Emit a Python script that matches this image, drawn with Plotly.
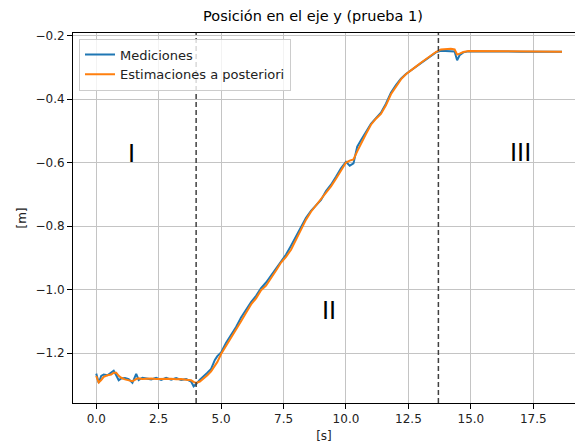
import plotly.graph_objects as go

# ---- data ----
t = [0.0, 0.1, 0.2, 0.3, 0.45, 0.6, 0.7, 0.8, 0.9, 1.0, 1.15, 1.3, 1.45, 1.6, 1.7, 1.85,
     2.0, 2.2, 2.4, 2.6, 2.8, 3.0, 3.2, 3.4, 3.6, 3.8, 3.9, 4.0, 4.15, 4.3, 4.45, 4.6,
     4.75, 4.85, 5.0, 5.2, 5.4, 5.6, 5.8, 6.0, 6.2, 6.4, 6.6, 6.8, 7.0, 7.2, 7.4, 7.6,
     7.8, 8.0, 8.2, 8.4, 8.6, 8.8, 9.0, 9.2, 9.4, 9.6, 9.8, 10.0, 10.15, 10.3, 10.45,
     10.6, 10.8, 11.0, 11.2, 11.4, 11.6, 11.8, 12.0, 12.2, 12.4, 12.6, 12.8, 13.0, 13.2,
     13.4, 13.6, 13.8, 14.0, 14.2, 14.35, 14.45, 14.55, 14.7, 14.9, 15.2, 16.0, 17.0,
     18.0, 18.65]

mediciones = [-1.265, -1.294, -1.272, -1.268, -1.270, -1.262, -1.256, -1.270, -1.286, -1.280,
              -1.279, -1.282, -1.294, -1.266, -1.285, -1.278, -1.280, -1.283, -1.278, -1.285,
              -1.278, -1.284, -1.279, -1.285, -1.282, -1.290, -1.305, -1.298, -1.284, -1.274,
              -1.262, -1.250, -1.222, -1.210, -1.198, -1.168, -1.145, -1.118, -1.088, -1.062,
              -1.040, -1.020, -0.996, -0.978, -0.955, -0.933, -0.910, -0.890, -0.862, -0.832,
              -0.800, -0.774, -0.752, -0.736, -0.718, -0.690, -0.670, -0.645, -0.618, -0.598,
              -0.610, -0.603, -0.550, -0.530, -0.505, -0.478, -0.460, -0.443, -0.415, -0.380,
              -0.356, -0.336, -0.321, -0.310, -0.297, -0.287, -0.275, -0.264, -0.253, -0.248,
              -0.248, -0.248, -0.250, -0.278, -0.262, -0.253, -0.250, -0.250, -0.251, -0.251,
              -0.251, -0.251]

estimaciones = [-1.272, -1.293, -1.285, -1.275, -1.270, -1.268, -1.262, -1.262, -1.272, -1.278,
                -1.283, -1.287, -1.289, -1.282, -1.280, -1.282, -1.281, -1.280, -1.282, -1.281,
                -1.282, -1.281, -1.283, -1.282, -1.284, -1.286, -1.291, -1.294, -1.290, -1.281,
                -1.270, -1.258, -1.240, -1.228, -1.203, -1.178, -1.152, -1.126, -1.100, -1.073,
                -1.047, -1.028, -1.002, -0.988, -0.962, -0.940, -0.915, -0.897, -0.875, -0.843,
                -0.810, -0.780, -0.755, -0.735, -0.712, -0.694, -0.675, -0.651, -0.625, -0.600,
                -0.594, -0.590, -0.565, -0.540, -0.510, -0.481, -0.462, -0.447, -0.420, -0.385,
                -0.360, -0.338, -0.322, -0.311, -0.298, -0.286, -0.274, -0.262, -0.252, -0.244,
                -0.242, -0.242, -0.244, -0.260, -0.257, -0.252, -0.249, -0.249, -0.250, -0.250,
                -0.251, -0.251]

x_ticks = [0.0, 2.5, 5.0, 7.5, 10.0, 12.5, 15.0, 17.5]
x_tick_labels = ["0.0", "2.5", "5.0", "7.5", "10.0", "12.5", "15.0", "17.5"]
y_ticks = [-1.2, -1.0, -0.8, -0.6, -0.4, -0.2]
y_tick_labels = ["\u22121.2", "\u22121.0", "\u22120.8", "\u22120.6", "\u22120.4", "\u22120.2"]

separadores = [4.0, 13.7]
etapas = ["I", "II", "III"]
etapas_x = [1.41, 9.32, 16.97]
etapas_y = [-0.572, -1.068, -0.570]

assert len(t) == len(mediciones) == len(estimaciones)

FONT = "DejaVu Sans"

fig = go.Figure()
fig.add_trace(go.Scatter(x=t, y=mediciones, mode="lines", name="Mediciones",
                         line=dict(color="#1f77b4", width=2)))
fig.add_trace(go.Scatter(x=t, y=estimaciones, mode="lines", name="Estimaciones a posteriori",
                         line=dict(color="#ff7f0e", width=2)))

for xv in separadores:
    fig.add_shape(type="line", xref="x", yref="paper", x0=xv, x1=xv, y0=0, y1=1,
                  line=dict(color="#404040", width=1.5, dash="5px,3px"), layer="above")

for lbl, xv, yv in zip(etapas, etapas_x, etapas_y):
    fig.add_annotation(x=xv, y=yv, xref="x", yref="y", text=lbl, showarrow=False,
                       font=dict(family=FONT, size=24, color="black"))

fig.update_layout(
    width=575, height=448,
    margin=dict(l=73, r=0, t=33, b=45),
    paper_bgcolor="white", plot_bgcolor="white",
    font=dict(family=FONT, size=12, color="#222222"),
    title=dict(text="Posición en el eje y (prueba 1)", x=313 / 575, xref="container",
               xanchor="center", y=1 - 16 / 448, yref="container", yanchor="middle",
               font=dict(family=FONT, size=14.5, color="black")),
    showlegend=True,
    legend=dict(x=(79 - 73) / 502, y=(403 - 38.5) / 370, xanchor="left", yanchor="top",
                bgcolor="rgba(255,255,255,0.8)", bordercolor="#cccccc", borderwidth=1,
                font=dict(family=FONT, size=13, color="#222222"),
                tracegroupgap=0),
)

fig.update_xaxes(range=[-0.93, 19.17], tickvals=x_ticks, ticktext=x_tick_labels,
                 showgrid=True, gridcolor="#c4c4c4", gridwidth=1,
                 showline=True, linecolor="black", linewidth=1, mirror=True,
                 ticks="outside", ticklen=5, tickcolor="black", zeroline=False,
                 title=dict(text="[s]", font=dict(family=FONT, size=12, color="#222222"),
                            standoff=6))
fig.update_yaxes(range=[-1.3575, -0.1921], tickvals=y_ticks, ticktext=y_tick_labels,
                 showgrid=True, gridcolor="#c4c4c4", gridwidth=1,
                 showline=True, linecolor="black", linewidth=1, mirror=False,
                 ticks="outside", ticklen=5, tickcolor="black", zeroline=False,
                 title=dict(text="[m]", font=dict(family=FONT, size=12, color="#222222"),
                            standoff=6))

fig.write_html("out.html")
